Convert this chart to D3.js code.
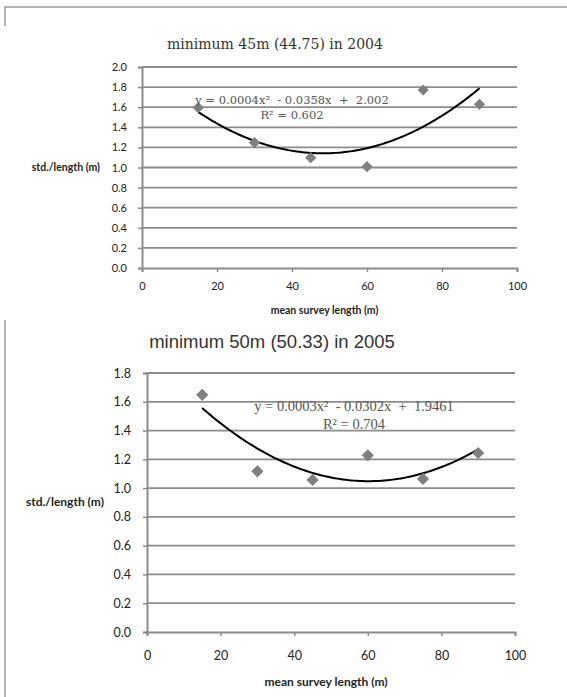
<!DOCTYPE html>
<html><head><meta charset="utf-8">
<script src="https://cdnjs.cloudflare.com/ajax/libs/d3/7.8.5/d3.min.js"></script>
<style>body{margin:0;background:#fff}svg{display:block}</style>
</head><body>
<script>
// ---- data ----
const surveyLengths = [15, 30, 45, 60, 75, 90];
const std2004 = [1.595, 1.247, 1.098, 1.008, 1.771, 1.629];
const std2005 = [1.648, 1.117, 1.057, 1.228, 1.064, 1.244];
const xTicks = [0, 20, 40, 60, 80, 100];
const yTicks2004 = [0, 0.2, 0.4, 0.6, 0.8, 1.0, 1.2, 1.4, 1.6, 1.8, 2.0];
const yTicks2005 = [0, 0.2, 0.4, 0.6, 0.8, 1.0, 1.2, 1.4, 1.6, 1.8];
const titles = ["minimum 45m (44.75) in 2004", "minimum 50m (50.33) in 2005"];
const equations = ["y = 0.0004x\u00B2  - 0.0358x  +  2.002", "y = 0.0003x\u00B2  - 0.0302x  +  1.9461"];
const r2Labels = ["R\u00B2 = 0.602", "R\u00B2 = 0.704"];
const xTitle = "mean survey length (m)";
const yTitle = "std./length (m)";

// least-squares quadratic fit (Excel polynomial trendline, order 2)
function quadFit(xs, ys) {
  const n = xs.length;
  let S = [0,0,0,0,0], T = [0,0,0];
  for (let i = 0; i < n; i++) {
    const x = xs[i], y = ys[i];
    for (let k = 0; k < 5; k++) S[k] += Math.pow(x, k);
    for (let k = 0; k < 3; k++) T[k] += y * Math.pow(x, k);
  }
  const A = [[S[0],S[1],S[2],T[0]],[S[1],S[2],S[3],T[1]],[S[2],S[3],S[4],T[2]]];
  for (let i = 0; i < 3; i++) {
    for (let j = i+1; j < 3; j++) {
      const f = A[j][i] / A[i][i];
      for (let k = i; k < 4; k++) A[j][k] -= f * A[i][k];
    }
  }
  const c = [0,0,0];
  for (let i = 2; i >= 0; i--) {
    let s = A[i][3];
    for (let k = i+1; k < 3; k++) s -= A[i][k] * c[k];
    c[i] = s / A[i][i];
  }
  return x => c[0] + c[1]*x + c[2]*x*x;
}

const W = 567, H = 697;
const svg = d3.select("body").append("svg").attr("width", W).attr("height", H);

// frame lines
svg.append("path").attr("d", "M5,26 V7 H567").attr("fill","none").attr("stroke","#9a9a9a").attr("stroke-width",1.5);
svg.append("path").attr("d", "M5,320 V697").attr("fill","none").attr("stroke","#9a9a9a").attr("stroke-width",1.5);

const configs = [
  { values: std2004, yTicks: yTicks2004, yMax: 2.0, x0: 142, x1: 517, yTop: 67, yBot: 268,
    title: titles[0], titleX: 275, titleY: 49, titleFont: "'DejaVu Serif', serif", titleSize: 14,
    eq: equations[0], r2: r2Labels[0], eqX: 292, eqY: 104, r2Y: 119, eqFont: "'DejaVu Serif', serif", eqSize: 11.5,
    tickSize: 11, yLabelRight: 127, xLabelY: 290, xTitleY: 314, yTitleY: 171, yTitleRight: 100, axisTitleSize: 10.5,
    marker: 80 },
  { values: std2005, yTicks: yTicks2005, yMax: 1.8, x0: 147, x1: 515, yTop: 373, yBot: 632,
    title: titles[1], titleX: 272, titleY: 348, titleFont: "'Liberation Sans', Arial, sans-serif", titleSize: 18.5,
    eq: equations[1], r2: r2Labels[1], eqX: 354, eqY: 411, r2Y: 429, eqFont: "'Liberation Serif', serif", eqSize: 14.5,
    tickSize: 12.5, yLabelRight: 131, xLabelY: 659, xTitleY: 686, yTitleY: 506, yTitleRight: 104, axisTitleSize: 12,
    marker: 95 }
];

configs.forEach(cfg => {
  const g = svg.append("g");
  const x = d3.scaleLinear().domain([0, 100]).range([cfg.x0, cfg.x1]);
  const y = d3.scaleLinear().domain([0, cfg.yMax]).range([cfg.yBot, cfg.yTop]);
  const gridColor = "#8c8c8c";

  // gridlines
  g.selectAll("line.grid").data(cfg.yTicks.filter(t => t > 0)).join("line")
    .attr("x1", cfg.x0).attr("x2", cfg.x1)
    .attr("y1", d => y(d)).attr("y2", d => y(d))
    .attr("stroke", gridColor).attr("stroke-width", 1.8);

  // y axis
  const yAxis = d3.axisLeft(y).tickValues(cfg.yTicks).tickFormat(d3.format(".1f")).tickSize(4).tickPadding(cfg.x0 - cfg.yLabelRight - 4);
  const ya = g.append("g").attr("transform", `translate(${cfg.x0},0)`).call(yAxis);
  ya.select(".domain").attr("stroke", gridColor).attr("stroke-width", 2);
  ya.selectAll(".tick line").attr("stroke", gridColor).attr("stroke-width", 1.5);
  ya.selectAll(".tick text").attr("font-family", "Lato, 'Open Sans', sans-serif").attr("font-size", cfg.tickSize).attr("fill", "#222");

  // x axis
  const xAxis = d3.axisBottom(x).tickValues(xTicks).tickFormat(d3.format("d")).tickSize(4).tickPadding(cfg.xLabelY - cfg.yBot - 12);
  const xa = g.append("g").attr("transform", `translate(0,${cfg.yBot})`).call(xAxis);
  xa.select(".domain").attr("stroke", gridColor).attr("stroke-width", 2);
  xa.selectAll(".tick line").attr("stroke", gridColor).attr("stroke-width", 1.5);
  xa.selectAll(".tick text").attr("font-family", "Lato, 'Open Sans', sans-serif").attr("font-size", cfg.tickSize).attr("fill", "#222");

  // title
  g.append("text").attr("x", cfg.titleX).attr("y", cfg.titleY).attr("text-anchor", "middle")
    .attr("font-family", cfg.titleFont).attr("font-size", cfg.titleSize).attr("fill", "#333").text(cfg.title);

  // axis titles
  g.append("text").attr("x", (cfg.x0 + cfg.x1) / 2 - 5).attr("y", cfg.xTitleY).attr("text-anchor", "middle")
    .attr("font-family", "Lato, 'Open Sans', sans-serif").attr("font-weight", "bold").attr("font-size", cfg.axisTitleSize)
    .attr("fill", "#222").text(xTitle);
  g.append("text").attr("x", cfg.yTitleRight).attr("y", cfg.yTitleY).attr("text-anchor", "end")
    .attr("font-family", "Lato, 'Open Sans', sans-serif").attr("font-weight", "bold").attr("font-size", cfg.axisTitleSize)
    .attr("fill", "#222").text(yTitle);

  // trendline
  const f = quadFit(surveyLengths, cfg.values);
  const xs = d3.range(0, 101).map(i => 15 + i * 0.75);
  g.append("path").datum(xs)
    .attr("d", d3.line().x(d => x(d)).y(d => y(f(d))).curve(d3.curveLinear))
    .attr("fill", "none").attr("stroke", "#000").attr("stroke-width", 2);

  // markers
  g.selectAll("path.pt").data(surveyLengths.map((d, i) => [d, cfg.values[i]])).join("path")
    .attr("d", d3.symbol().type(d3.symbolDiamond2).size(cfg.marker))
    .attr("transform", d => `translate(${x(d[0])},${y(d[1])})`)
    .attr("fill", "#7f7f7f");

  // equation labels
  g.append("text").attr("x", cfg.eqX).attr("y", cfg.eqY).attr("text-anchor", "middle")
    .attr("font-family", cfg.eqFont).attr("font-size", cfg.eqSize).attr("fill", "#555")
    .style("white-space", "pre").text(cfg.eq);
  g.append("text").attr("x", cfg.eqX).attr("y", cfg.r2Y).attr("text-anchor", "middle")
    .attr("font-family", cfg.eqFont).attr("font-size", cfg.eqSize).attr("fill", "#555").text(cfg.r2);
});
</script>
</body></html>
